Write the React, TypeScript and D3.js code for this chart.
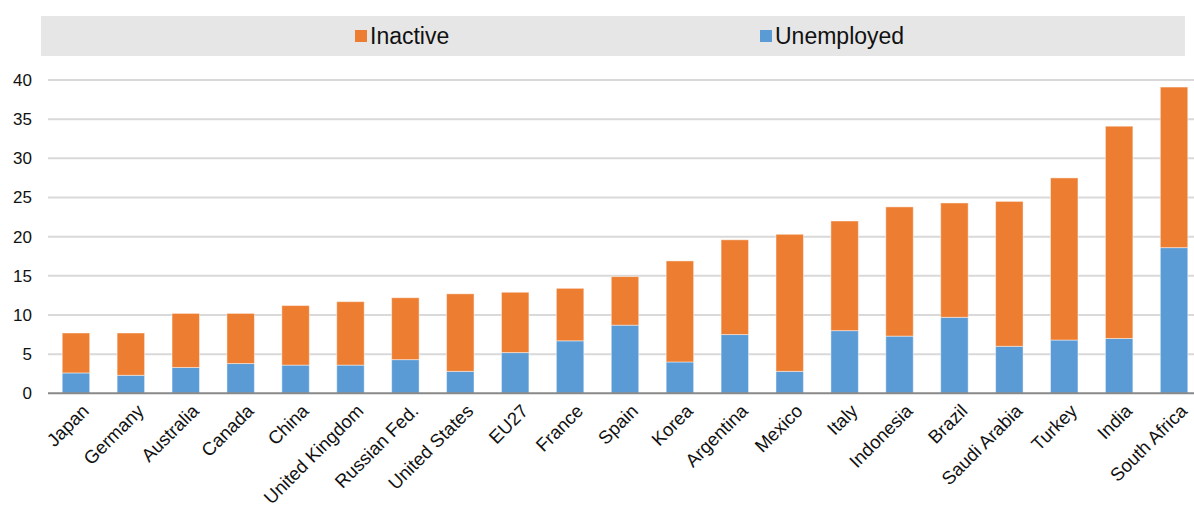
import React from "react";
import * as d3 from "d3";

const categories = ["Japan","Germany","Australia","Canada","China","United Kingdom","Russian Fed.","United States","EU27","France","Spain","Korea","Argentina","Mexico","Italy","Indonesia","Brazil","Saudi Arabia","Turkey","India","South Africa"];
const totals = [7.7,7.7,10.2,10.2,11.2,11.7,12.2,12.7,12.9,13.4,14.9,16.9,19.6,20.3,22.0,23.8,24.3,24.5,27.5,34.1,39.1];
const unemployed = [2.6,2.3,3.3,3.8,3.6,3.6,4.3,2.8,5.2,6.7,8.7,4.0,7.5,2.8,8.0,7.3,9.7,6.0,6.8,7.0,18.6];
const inactive = totals.map((t, i) => +(t - unemployed[i]).toFixed(1));
const yTicks = [0,5,10,15,20,25,30,35,40];
const seriesNames = ["Inactive", "Unemployed"];
const colors = { Inactive: "#ED7D31", Unemployed: "#5B9BD5" };

export default function App() {
  const W = 1194, H = 516;
  const x = d3.scaleBand<string>().domain(categories).range([48.5, 1201.5]).paddingInner(0.5).paddingOuter(0.25);
  const y = d3.scaleLinear().domain([0, 40]).range([393.3, 80]);
  const rows = categories.map((c, i) => ({ c, Unemployed: unemployed[i], Inactive: inactive[i] }));
  const stack = d3.stack<any>().keys(["Unemployed", "Inactive"])(rows);
  const font = "'Liberation Sans', Arial, sans-serif";
  return (
    <svg width={W} height={H} style={{ position: "absolute", left: 0, top: 0 }} fontFamily={font}>
      <rect x={0} y={0} width={W} height={H} fill="#fff" />
      <rect x={41} y={16} width={1144} height={40} fill="#e6e6e6" />
      {seriesNames.map((s, i) => {
        const lx = i === 0 ? 355 : 760;
        return (
          <g key={s}>
            <rect x={lx} y={30} width={12} height={12} fill={(colors as any)[s]} />
            <text x={lx + 15} y={44} fontSize={23} fill="#111">{s}</text>
          </g>
        );
      })}
      {yTicks.map(t => (
        <g key={t}>
          {t > 0 && <line x1={48} x2={W} y1={y(t)} y2={y(t)} stroke="#d9d9d9" strokeWidth={2} />}
          <text x={32} y={y(t) + 6} textAnchor="end" fontSize={17} fill="#111">{t}</text>
        </g>
      ))}
      {stack.map(layer => (
        <g key={layer.key} fill={(colors as any)[layer.key]}>
          {layer.map((d, i) => (
            <rect key={i} x={x(categories[i])} width={x.bandwidth()} y={y(d[1])} height={y(d[0]) - y(d[1])}
              stroke="#ffffff" strokeOpacity={0.45} strokeWidth={1} />
          ))}
        </g>
      ))}
      <line x1={48} x2={W} y1={y(0)} y2={y(0)} stroke="#898989" strokeWidth={2} />
      {categories.map(c => {
        const cx = (x(c) as number) + x.bandwidth() / 2;
        return (
          <text key={c} transform={`translate(${cx + 5},${403}) rotate(-45)`} textAnchor="end" dy="0.7em" fontSize={18.5} fill="#111">{c}</text>
        );
      })}
    </svg>
  );
}
